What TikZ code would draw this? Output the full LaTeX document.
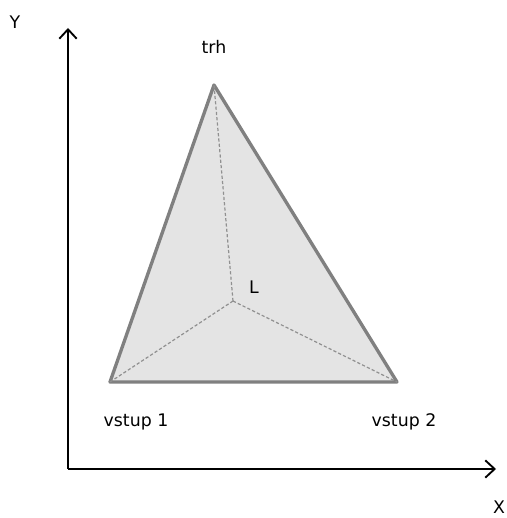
\documentclass[tikz,border=0pt]{standalone}
\usepackage{fontspec}
\setmainfont{DejaVu Sans}
\usepackage{xcolor}
\usetikzlibrary{arrows.meta}
\definecolor{edgegray}{HTML}{808080}
\definecolor{fillgray}{HTML}{E4E4E4}
\definecolor{dashgray}{HTML}{909090}
\tikzset{
  axisline/.style={black,line width=1.4pt,-{Straight Barb[length=7pt,width=13pt,line width=1.4pt]}},
  faceedge/.style={edgegray,line width=2.5pt,line join=round,fill=fillgray},
  ridge/.style={dashgray,line width=0.9pt,dash pattern=on 2.4pt off 1.6pt},
  lbl/.style={font=\fontsize{13}{15}\selectfont,inner sep=0pt}
}

\begin{document}
\begin{tikzpicture}[x=0.75pt,y=0.75pt]
  \useasboundingbox (0,0) rectangle (507,518);
  % axes
  \coordinate (orig) at (68,49);
  \coordinate (ytip) at (68,490);
  \coordinate (xtip) at (496,49);
  \draw[axisline] (orig) -- (ytip);
  \draw[axisline] (orig) -- (xtip);
  \node[lbl] (ylab) at (15,496) {Y};
  \node[lbl] (xlab) at (499,11) {X};
  % triangle and its centre point
  \coordinate (top) at (214,433);
  \coordinate (left) at (110,136);
  \coordinate (right) at (397,136);
  \coordinate (cen) at (233,217);
  \draw[faceedge] (left) -- (top) -- (right) -- cycle;
  \draw[ridge] (cen) -- (top) (cen) -- (left) (cen) -- (right);
  \node[lbl] (trh) at (214,471) {trh};
  \node[lbl] (llab) at (254,231) {L};
  \node[lbl] (vs1) at (136,96) {vstup 1};
  \node[lbl] (vs2) at (404,96) {vstup 2};
\end{tikzpicture}
\end{document}
